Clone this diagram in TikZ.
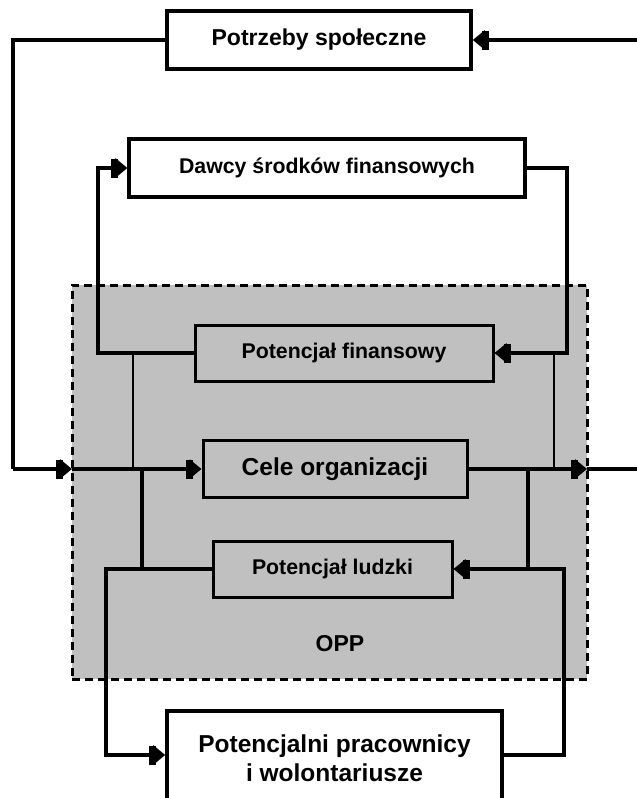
\documentclass[tikz,border=0pt]{standalone}
\usepackage{fontspec}
\setmainfont{Liberation Sans}
\usetikzlibrary{arrows.meta}
\definecolor{oppgray}{HTML}{C0C0C0}
\begin{document}
\begin{tikzpicture}[x=1pt,y=-1pt,
  box/.style={draw, rectangle, inner sep=0pt, align=center},
  wbox/.style={box, fill=white},
  conn/.style={line width=3.2pt},
  thinconn/.style={line width=2.2pt},
  arr/.style={-{Rectangle[length=7pt,width=19pt,sep=-3pt]Triangle[length=12pt,width=19pt]}},
  fA/.style={font=\fontsize{23pt}{27pt}\bfseries\selectfont},
  fB/.style={font=\fontsize{21.3pt}{25pt}\bfseries\selectfont},
  fC/.style={font=\fontsize{24.5pt}{29pt}\bfseries\selectfont}
]
\useasboundingbox (0,0) rectangle (637,798);
\clip (0,0) rectangle (637,798);

% OPP area
\node[draw, fill=oppgray, line width=3pt, dash pattern=on 8pt off 5pt,
      minimum width=515pt, minimum height=394pt, inner sep=0pt] (opp) at (329.5,482) {};
\node[fA] (opplabel) at (340,644) {OPP};

% boxes
\node[wbox, fA, line width=3.6pt, minimum width=304pt, minimum height=58pt] (ps) at (319,40) {Potrzeby społeczne};
\node[wbox, fB, line width=3.2pt, minimum width=396pt, minimum height=58pt] (dsf) at (327,168) {Dawcy środków finansowych};
\node[box, fB, line width=3pt, minimum width=298pt, minimum height=56pt] (pf) at (344,353) {Potencjał finansowy};
\node[box, fC, line width=3pt, minimum width=264pt, minimum height=57pt] (co) at (335,469) {Cele organizacji};
\node[box, fB, line width=3pt, minimum width=239pt, minimum height=56pt] (pl) at (332.5,569) {Potencjał ludzki};
\node[wbox, line width=3.6pt, minimum width=335pt, minimum height=120pt, anchor=north] (ppw) at (334.5,709) {};
\node[fC, align=center, inner sep=0pt] (ppwtext) at (334.5,758) {Potencjalni pracownicy\\i wolontariusze};

% coordinates
\coordinate (tl) at (13,40);
\coordinate (bl) at (13,469);
\coordinate (inL) at (72,469);
\coordinate (tr) at (637,40);
\coordinate (outR) at (587,469);
\coordinate (far) at (637,469);
\coordinate (dl) at (98,353);
\coordinate (dlt) at (98,168);
\coordinate (dr) at (567,168);
\coordinate (drb) at (567,353);
\coordinate (t1a) at (133,353);
\coordinate (t1b) at (133,469);
\coordinate (t2a) at (554,353);
\coordinate (t2b) at (554,469);
\coordinate (la) at (142,469);
\coordinate (lb) at (142,569);
\coordinate (lc) at (106,569);
\coordinate (ld) at (106,755);
\coordinate (pw) at (ppw.north west |- ld);
\coordinate (pe) at (ppw.north east |- ld);
\coordinate (ra) at (528,469);
\coordinate (rb) at (528,569);
\coordinate (rc) at (564,755);
\coordinate (rd) at (564,569);

% connectors
\draw[conn, line width=3.6pt] (ps.west) -- (tl) -- (bl);
\draw[conn, arr] (bl) -- (inL);
\draw[conn, arr] (inL) -- (co.west);
\draw[conn, line width=3.6pt, arr] (tr) -- (ps.east);
\draw[conn, arr] (pf.west) -- (dl) -- (dlt) -- (dsf.west);
\draw[conn, arr] (dsf.east) -- (dr) -- (drb) -- (pf.east);
\draw[thinconn] (t1a) -- (t1b);
\draw[thinconn] (t2a) -- (t2b);
\draw[conn, arr] (co.east) -- (outR);
\draw[conn] (outR) -- (far);
\draw[conn] (la) -- (lb);
\draw[conn, arr] (pl.west) -- (lc) -- (ld) -- (pw);
\draw[conn] (ra) -- (rb);
\draw[conn, arr] (pe) -- (rc) -- (rd) -- (pl.east);
\end{tikzpicture}
\end{document}
